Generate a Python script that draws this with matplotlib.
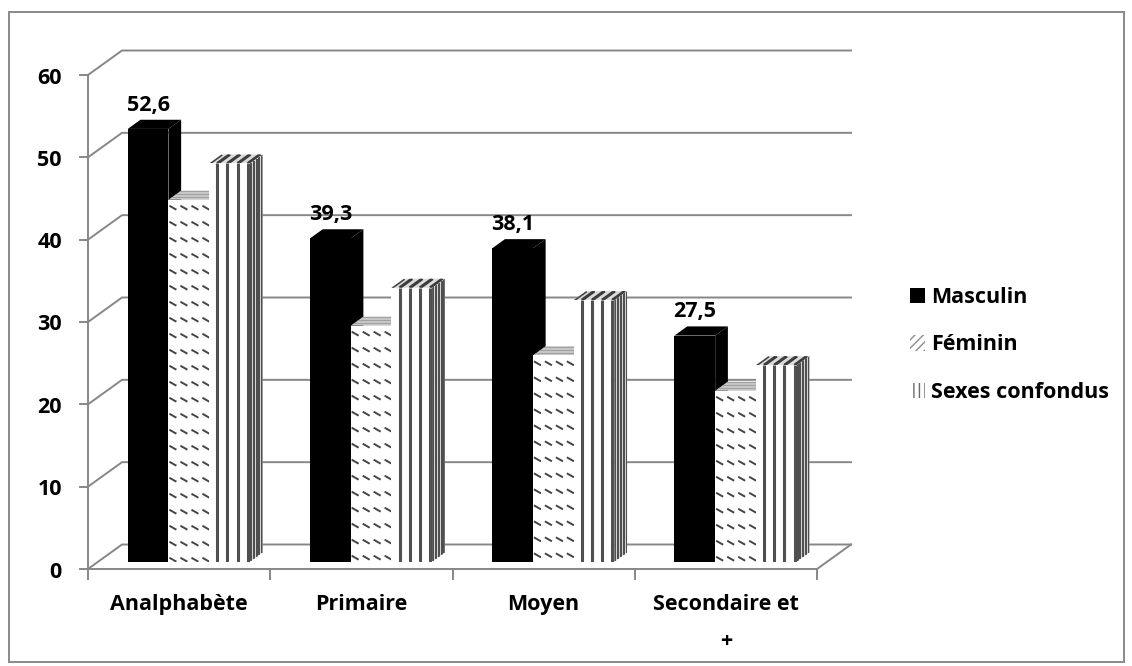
import numpy as np
import matplotlib.pyplot as plt
from matplotlib.patches import Polygon, Patch, Rectangle
from matplotlib.collections import LineCollection

categories = ['Analphabète', 'Primaire', 'Moyen', 'Secondaire et\n+']
series_names = ['Masculin', 'Féminin', 'Sexes confondus']
masculin = [52.6, 39.3, 38.1, 27.5]
feminin = [44.0, 28.7, 25.1, 20.8]
sexes_confondus = [48.4, 33.3, 31.8, 23.9]
y_ticks = [0, 10, 20, 30, 40, 50, 60]

W, H = 1132, 666
GRID = '#878787'
FONT = 'Open Sans'
FS = 15.5

plt.rcParams['font.family'] = [FONT, 'DejaVu Sans']
plt.rcParams['font.weight'] = 'bold'

fig = plt.figure(figsize=(W / 100, H / 100), dpi=100)
# axes = front plane of the 3d box (value axis at left, floor at bottom)
ax = fig.add_axes([88 / W, (H - 569) / H, (817 - 88) / W, (569 - 75) / H])
ax.set_xlim(0, len(categories))
ax.set_ylim(0, 60)
ax.axis('off')

# data units per pixel, and oblique offset of the back wall
px_x = len(categories) / (817 - 88)
px_y = 60 / (569 - 75)
DX, DY = 34 * px_x, 24.5 * px_y

# bar depth range (0 = front, 1 = back wall) and layout inside a category
D0, D1 = 0.286, 0.66
GAP = 30 * px_x
BW = 40.7 * px_x


def proj(x, v, d):
    return (x + d * DX, v + d * DY)


def poly(pts, fc, z):
    p = Polygon(pts, closed=True, facecolor=fc, edgecolor='none', lw=0,
                zorder=z, clip_on=False)
    ax.add_patch(p)
    return p


def lines(segs, color, lw, z, clip):
    lc = LineCollection(segs, colors=color, linewidths=lw, zorder=z,
                        clip_on=True, capstyle='butt')
    ax.add_collection(lc)
    lc.set_clip_path(clip)
    return lc


# walls and gridlines
nc = len(categories)
for v in y_ticks:
    pts = [proj(0, v, 0), proj(0, v, 1), proj(nc, v, 1)]
    ax.plot(*zip(*pts), color=GRID, lw=1.4, zorder=1, clip_on=False,
            solid_joinstyle='miter')
    # tick mark on the value axis
    ax.plot([-8 * px_x, 0], [v, v], color=GRID, lw=1.4, zorder=1, clip_on=False)
    ax.annotate(str(v), (0, v), xytext=(-26 * 0.72, -3 * 0.72), textcoords='offset points',
                ha='right', va='center', fontsize=FS, fontweight='bold',
                annotation_clip=False)

floor = [proj(0, 0, 0), proj(nc, 0, 0), proj(nc, 0, 1)]
ax.plot(*zip(*floor), color=GRID, lw=1.4, zorder=1, clip_on=False)
ax.plot([0, 0], [0, 60], color=GRID, lw=1.4, zorder=1, clip_on=False)
for i in range(nc + 1):
    ax.plot([i, i], [0, -10 * px_y], color=GRID, lw=1.4, zorder=1, clip_on=False)

for i, name in enumerate(categories):
    ax.annotate(name, (i + 0.5, 0), xytext=(0, -25 * 0.72), textcoords='offset points',
                ha='center', va='top', fontsize=FS, fontweight='bold',
                linespacing=2.0, annotation_clip=False)

z = 5
values = [masculin, feminin, sexes_confondus]
for i in range(nc):
    for j, vals in enumerate(values):
        v = vals[i]
        xl = i + GAP + j * BW
        xr = xl + BW
        front = [proj(xl, 0, D0), proj(xr, 0, D0), proj(xr, v, D0), proj(xl, v, D0)]
        top = [proj(xl, v, D0), proj(xr, v, D0), proj(xr, v, D1), proj(xl, v, D1)]
        side = [proj(xr, 0, D0), proj(xr, 0, D1), proj(xr, v, D1), proj(xr, v, D0)]

        if j == 0:
            for pts in (side, top, front):
                poly(pts, 'black', z)
                z += 1
        elif j == 1:
            poly(side, '#bdbdbd', z)
            z += 1
            ptop = poly(top, '#c6c6c6', z)
            z += 1
            # fine horizontal texture on the top face
            segs = []
            y0 = v + D0 * DY
            for r in np.arange(y0 + 2.5 * px_y, v + D1 * DY, 3 * px_y):
                segs.append([(xl, r), (xr + DX, r)])
            lines(segs, '#9a9a9a', 0.6, z, ptop)
            z += 1
            pf = poly(front, 'white', z)
            z += 1
            # dashed downward diagonal pattern
            fx0 = xl + D0 * DX
            fy0 = D0 * DY
            segs = []
            for ry in np.arange(fy0 + v - 6 * px_y, fy0 - 16 * px_y, -16 * px_y):
                for rx in np.arange(fx0 + 1 * px_x, fx0 + BW, 11 * px_x):
                    segs.append([(rx, ry), (rx + 7 * px_x, ry - 4 * px_y)])
            lines(segs, '#444444', 1.4, z, pf)
            z += 1
        else:
            stripes = [xl + (k + 0.8) / 4 * BW for k in range(4)]
            ps = poly(side, '#e2e2e2', z)
            z += 1
            segs = []
            for f in np.linspace(D0 + 0.03, D1 - 0.01, 5):
                segs.append([proj(xr, 0, f), proj(xr, v, f)])
            lines(segs, '#4f4f4f', 1.5, z, ps)
            z += 1
            pt = poly(top, '#dcdcdc', z)
            z += 1
            segs = [[proj(s, v, D0), proj(s, v, D1)] for s in [xl] + stripes]
            lines(segs, '#3c3c3c', 2.2, z, pt)
            z += 1
            pf = poly(front, 'white', z)
            z += 1
            segs = [[proj(s, 0, D0), proj(s, v, D0)] for s in stripes]
            lines(segs, '#505050', 2.2, z, pf)
            z += 1

    # value label over the Masculin bar
    xc = i + GAP + BW / 2 + D0 * DX
    ax.annotate(f'{masculin[i]:.1f}'.replace('.', ','), (xc, masculin[i] + D1 * DY),
                xytext=(0, 9 * 0.72), textcoords='offset points',
                ha='center', va='baseline', fontsize=FS, fontweight='bold',
                annotation_clip=False, zorder=z)

handles = [
    Patch(facecolor='black', edgecolor='black', lw=0),
    Patch(facecolor='white', edgecolor='#8c8c8c', hatch='////', lw=0),
    Patch(facecolor='white', edgecolor='#6a6a6a', hatch='|||', lw=0),
]
leg = fig.legend(handles, series_names, loc='center left',
                 bbox_to_anchor=(891 / W, 1 - 345 / H), frameon=False,
                 handlelength=0.7, handleheight=0.7, handletextpad=0.25,
                 labelspacing=1.25, prop={'family': FONT, 'weight': 'bold', 'size': FS})

fig.add_artist(Rectangle((9 / W, (H - 662) / H), (1124 - 9) / W, (662 - 12) / H,
                         transform=fig.transFigure, fill=False,
                         edgecolor='#8a8a8a', lw=1.4))

fig.savefig('out.png', dpi=100)
